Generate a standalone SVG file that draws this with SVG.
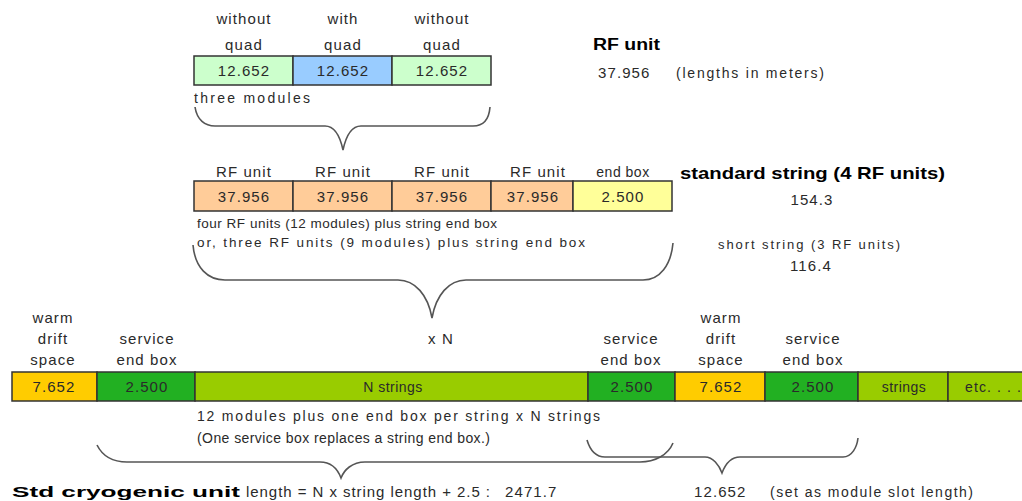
<svg xmlns="http://www.w3.org/2000/svg" width="1022" height="501" viewBox="0 0 1022 501">
<style>
text{font-family:"Liberation Sans",Arial,sans-serif;font-size:15px;fill:#2a2a2a;letter-spacing:1.1px}
.c{text-anchor:middle}
.t{letter-spacing:0;font-size:14px}
.b{font-weight:bold;fill:#000;letter-spacing:0}
.box{stroke:#333;stroke-width:1.5}
.brace{fill:none;stroke:#555;stroke-width:1.6}
</style>
<rect width="1022" height="501" fill="#fff"/>
<g id="modules">
<rect class="box" x="194" y="56" width="99" height="29" fill="#ccffcc"/>
<rect class="box" x="293" y="56" width="99" height="29" fill="#99ccff"/>
<rect class="box" x="392" y="56" width="99" height="29" fill="#ccffcc"/>
<text class="c" x="244" y="24">without</text><text class="c" x="244" y="50">quad</text>
<text class="c" x="343" y="24">with</text><text class="c" x="343" y="50">quad</text>
<text class="c" x="442" y="24">without</text><text class="c" x="442" y="50">quad</text>
<text class="c" x="244" y="76">12.652</text>
<text class="c" x="343" y="76">12.652</text>
<text class="c" x="442" y="76">12.652</text>
<text class="t" x="194" y="103" textLength="116">three modules</text>
</g>
<g id="rfunit">
<text class="b" x="593" y="50" style="font-size:16px" textLength="67" lengthAdjust="spacingAndGlyphs">RF unit</text>
<text x="598" y="78">37.956</text>
<text class="t" x="676" y="78" textLength="148">(lengths in meters)</text>
</g>
<g id="string">
<rect class="box" x="194" y="181" width="99" height="30" fill="#ffcc99"/>
<rect class="box" x="293" y="181" width="99" height="30" fill="#ffcc99"/>
<rect class="box" x="392" y="181" width="99" height="30" fill="#ffcc99"/>
<rect class="box" x="491" y="181" width="82" height="30" fill="#ffcc99"/>
<rect class="box" x="573" y="181" width="99" height="30" fill="#ffff99"/>
<text class="c" x="244" y="177">RF unit</text>
<text class="c" x="343" y="177">RF unit</text>
<text class="c" x="442" y="177">RF unit</text>
<text class="c" x="538" y="177">RF unit</text>
<text class="c" x="623" y="177" style="font-size:14px;letter-spacing:0.5px">end box</text>
<text class="c" x="244" y="202">37.956</text>
<text class="c" x="343" y="202">37.956</text>
<text class="c" x="442" y="202">37.956</text>
<text class="c" x="533" y="202">37.956</text>
<text class="c" x="623" y="202">2.500</text>
<text class="t" x="197" y="228" style="font-size:13.5px" textLength="300">four RF units (12 modules) plus string end box</text>
<text class="t" x="197" y="247" style="font-size:13.5px" textLength="388">or, three RF units (9 modules) plus string end box</text>
</g>
<g id="stdstring">
<text class="b" x="680" y="179" style="font-size:17px" textLength="265" lengthAdjust="spacingAndGlyphs">standard string (4 RF units)</text>
<text class="c" x="812" y="205">154.3</text>
<text class="t" x="718" y="249" style="font-size:13px" textLength="182">short string (3 RF units)</text>
<text class="c" x="811" y="271">116.4</text>
</g>
<g id="cryounit">
<rect class="box" x="12" y="372" width="85" height="29" fill="#ffcc00"/>
<rect class="box" x="97" y="372" width="98" height="29" fill="#22b022"/>
<rect class="box" x="195" y="372" width="393" height="29" fill="#99cc00"/>
<rect class="box" x="588" y="372" width="87" height="29" fill="#22b022"/>
<rect class="box" x="675" y="372" width="90" height="29" fill="#ffcc00"/>
<rect class="box" x="765" y="372" width="93" height="29" fill="#22b022"/>
<rect class="box" x="858" y="372" width="90" height="29" fill="#99cc00"/>
<rect class="box" x="948" y="372" width="80" height="29" fill="#99cc00"/>
<text class="c" x="53" y="323">warm</text><text class="c" x="53" y="344">drift</text><text class="c" x="53" y="365">space</text>
<text class="c" x="147" y="344">service</text><text class="c" x="147" y="365">end box</text>
<text class="c" x="441" y="344">x N</text>
<text class="c" x="631" y="344">service</text><text class="c" x="631" y="365">end box</text>
<text class="c" x="721" y="323">warm</text><text class="c" x="721" y="344">drift</text><text class="c" x="721" y="365">space</text>
<text class="c" x="813" y="344">service</text><text class="c" x="813" y="365">end box</text>
<text class="c" x="54" y="392">7.652</text>
<text class="c" x="147" y="392">2.500</text>
<text class="c" x="393" y="392" style="font-size:14px;letter-spacing:0.5px">N strings</text>
<text class="c" x="632" y="392">2.500</text>
<text class="c" x="721" y="392">7.652</text>
<text class="c" x="813" y="392">2.500</text>
<text class="c" x="904" y="392" style="font-size:14px;letter-spacing:0.5px">strings</text>
<text x="965" y="392" style="font-size:14px">etc. . . .</text>
<text class="t" x="197" y="421" textLength="403">12 modules plus one end box per string x N strings</text>
<text class="t" x="197" y="443" textLength="293">(One service box replaces a string end box.)</text>
</g>
<g id="totals">
<text class="b" x="12" y="497" style="font-size:15px" textLength="228" lengthAdjust="spacingAndGlyphs">Std cryogenic unit</text>
<text class="t" x="246" y="497" style="font-size:15px" textLength="244">length = N x string length + 2.5 :</text>
<text x="505" y="497">2471.7</text>
<text x="694" y="497">12.652</text>
<text class="t" x="770" y="497" textLength="203">(set as module slot length)</text>
</g>
<g id="connectors">
<path class="brace" d="M195,107 C197,120 205,126 215,126 L325,126 C335,126 340,136 343,150 C346,136 351,126 361,126 L473,126 C483,126 489,120 490,107"/>
<path class="brace" d="M193,245 C195,268 208,280 225,280 L398,280 C415,280 428,295 432,318 C436,295 449,280 466,280 L643,280 C660,280 671,265 673,243"/>
<path class="brace" d="M97,445 C102,455 112,462 127,462 L320,462 C332,462 338,470 341,478 C344,470 352,462 365,462 L640,462 C655,462 668,455 673,443"/>
<path class="brace" d="M587,440 C590,450 595,457 605,457 L705,457 C713,457 719,465 722,473 C725,465 730,457 740,457 L843,457 C852,457 857,447 858,438"/>
</g>
</svg>
